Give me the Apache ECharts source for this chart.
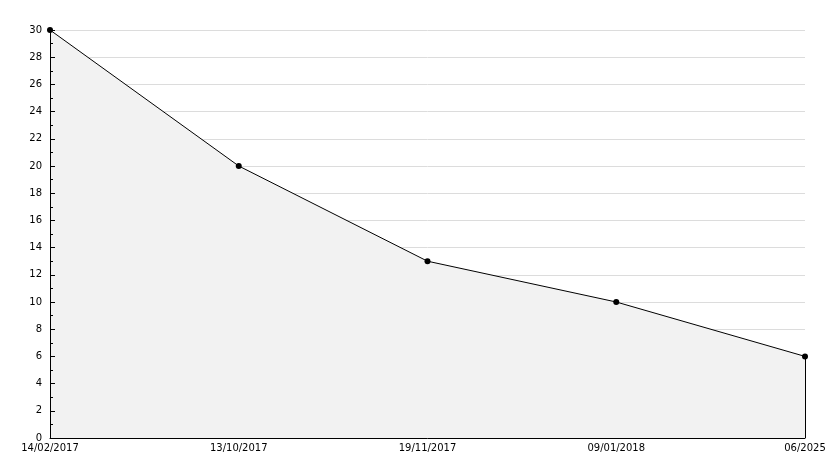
<!DOCTYPE html>
<html>
<head>
<meta charset="utf-8">
<script src="https://cdn.jsdelivr.net/npm/echarts@6/dist/echarts.min.js"></script>
<style>html,body{margin:0;padding:0;background:#fff}#c{width:834px;height:468px}</style>
</head>
<body>
<div id="c"></div>
<script>
var categories = ['14/02/2017', '13/10/2017', '19/11/2017', '09/01/2018', '06/2025'];
var values = [30, 20, 13, 10, 6];
var yMin = 0, yMax = 30, yStep = 2;

var chart = echarts.init(document.getElementById('c'), null, {renderer: 'canvas'});
var lastIdx = categories.length - 1;
chart.setOption({
  animation: false,
  grid: {left: 50, right: 29, top: 30, bottom: 30, containLabel: false},
  xAxis: {
    type: 'category',
    data: categories,
    boundaryGap: false,
    z: 10,
    axisLine: {show: true, lineStyle: {color: '#000', width: 1}},
    axisTick: {show: false},
    axisLabel: {color: '#000', fontFamily: 'DejaVu Sans', fontSize: 10, margin: 5, interval: 0},
    splitLine: {show: false}
  },
  yAxis: [{
    type: 'value',
    min: yMin, max: yMax, interval: yStep,
    z: 0,
    axisLine: {show: false},
    axisTick: {show: false},
    axisLabel: {show: false},
    splitLine: {show: true, lineStyle: {color: '#dcdcdc', width: 1}}
  }, {
    type: 'value',
    position: 'left',
    min: yMin, max: yMax, interval: yStep,
    z: 10,
    axisLine: {show: true, lineStyle: {color: '#000', width: 1}},
    axisTick: {show: true, inside: true, length: 5, lineStyle: {color: '#000'}},
    minorTick: {show: true, splitNumber: 2, length: 3, lineStyle: {color: '#000'}},
    axisLabel: {color: '#000', fontFamily: 'DejaVu Sans', fontSize: 10, margin: 8},
    splitLine: {show: false}
  }],
  series: [{
    type: 'line',
    data: values,
    yAxisIndex: 0,
    symbol: 'circle',
    symbolSize: 6,
    itemStyle: {color: '#000'},
    lineStyle: {color: '#000', width: 1},
    areaStyle: {color: '#f2f2f2', opacity: 1},
    z: 3,
    markLine: {
      silent: true,
      symbol: 'none',
      label: {show: false},
      lineStyle: {color: '#000', width: 1, type: 'solid'},
      data: [[{coord: [lastIdx, values[lastIdx]]}, {coord: [lastIdx, yMin]}]]
    }
  }]
});
</script>
</body>
</html>
